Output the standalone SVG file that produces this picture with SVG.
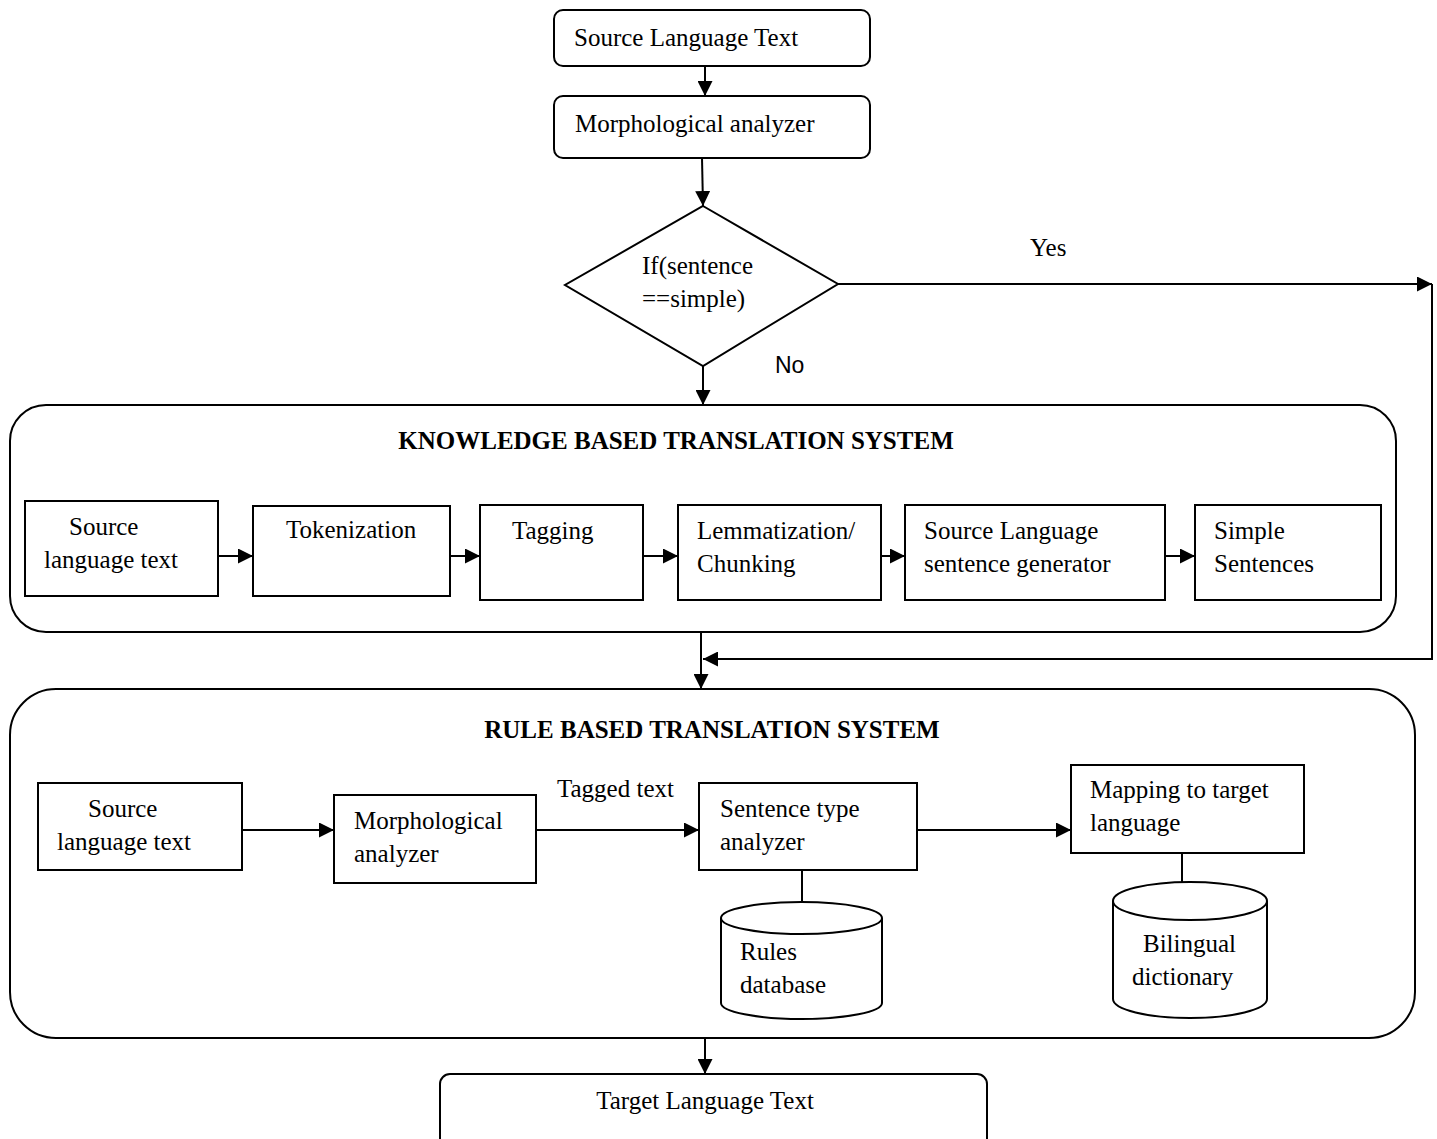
<svg xmlns="http://www.w3.org/2000/svg" width="1437" height="1139" viewBox="0 0 1437 1139">
<style>
.b{fill:#fff;stroke:#000;stroke-width:2}
.c{fill:none;stroke:#000;stroke-width:2}
.t{font-family:"Liberation Serif","Times New Roman",serif;font-size:25px;fill:#000}
.h{font-family:"Liberation Serif","Times New Roman",serif;font-size:25px;font-weight:bold;fill:#000}
.s{font-family:"Liberation Sans",Arial,sans-serif;font-size:23px;fill:#000}
</style>
<defs>
<marker id="ah" markerUnits="userSpaceOnUse" markerWidth="15" markerHeight="15" refX="15" refY="7.5" orient="auto">
<path d="M0,0 L15,7.5 L0,15 z" fill="#000"/>
</marker>
</defs>
<rect width="1437" height="1139" fill="#fff"/>

<g id="kbts">
<rect class="b" x="10" y="405" width="1386" height="227" rx="36" ry="36"/>
<text class="h" x="676" y="449" text-anchor="middle">KNOWLEDGE BASED TRANSLATION SYSTEM</text>
</g>
<g id="rbts">
<rect class="b" x="10" y="689" width="1405" height="349" rx="46" ry="46"/>
<text class="h" x="712" y="738" text-anchor="middle">RULE BASED TRANSLATION SYSTEM</text>
</g>

<g id="connectors">
<path class="c" d="M705,66 V96" marker-end="url(#ah)"/>
<path class="c" d="M702,158 L703,206" marker-end="url(#ah)"/>
<path class="c" d="M838,284 H1432" marker-end="url(#ah)"/>
<path class="c" d="M1432,284 V659 H703" marker-end="url(#ah)"/>
<path class="c" d="M703,366 V405" marker-end="url(#ah)"/>
<path class="c" d="M701,632 V689" marker-end="url(#ah)"/>
<path class="c" d="M218,556 H253" marker-end="url(#ah)"/>
<path class="c" d="M450,556 H480" marker-end="url(#ah)"/>
<path class="c" d="M643,556 H678" marker-end="url(#ah)"/>
<path class="c" d="M881,556 H905" marker-end="url(#ah)"/>
<path class="c" d="M1165,556 H1195" marker-end="url(#ah)"/>
<path class="c" d="M242,830 H334" marker-end="url(#ah)"/>
<path class="c" d="M536,830 H699" marker-end="url(#ah)"/>
<path class="c" d="M917,830 H1071" marker-end="url(#ah)"/>
<path class="c" d="M802,870 V902"/>
<path class="c" d="M1182,853 V882"/>
<path class="c" d="M705,1038 V1074" marker-end="url(#ah)"/>
<text class="t" x="1030" y="256">Yes</text>
<text class="s" x="775" y="373">No</text>
<text class="t" x="557" y="797">Tagged text</text>
</g>

<g id="n-source">
<rect class="b" x="554" y="10" width="316" height="56" rx="9" ry="9"/>
<text class="t" x="574" y="46">Source Language Text</text>
</g>
<g id="n-morph">
<rect class="b" x="554" y="96" width="316" height="62" rx="9" ry="9"/>
<text class="t" x="575" y="132">Morphological analyzer</text>
</g>
<g id="n-decision">
<polygon class="b" points="703,206 838,284 703,366 565,285"/>
<text class="t" x="642" y="274">If(sentence</text>
<text class="t" x="642" y="307">==simple)</text>
</g>

<g id="k1">
<rect class="b" x="25" y="501" width="193" height="95"/>
<text class="t" x="69" y="535">Source</text>
<text class="t" x="44" y="568">language text</text>
</g>
<g id="k2">
<rect class="b" x="253" y="506" width="197" height="90"/>
<text class="t" x="286" y="538">Tokenization</text>
</g>
<g id="k3">
<rect class="b" x="480" y="505" width="163" height="95"/>
<text class="t" x="512" y="539">Tagging</text>
</g>
<g id="k4">
<rect class="b" x="678" y="505" width="203" height="95"/>
<text class="t" x="697" y="539">Lemmatization/</text>
<text class="t" x="697" y="572">Chunking</text>
</g>
<g id="k5">
<rect class="b" x="905" y="505" width="260" height="95"/>
<text class="t" x="924" y="539">Source Language</text>
<text class="t" x="924" y="572">sentence generator</text>
</g>
<g id="k6">
<rect class="b" x="1195" y="505" width="186" height="95"/>
<text class="t" x="1214" y="539">Simple</text>
<text class="t" x="1214" y="572">Sentences</text>
</g>

<g id="r1">
<rect class="b" x="38" y="783" width="204" height="87"/>
<text class="t" x="88" y="817">Source</text>
<text class="t" x="57" y="850">language text</text>
</g>
<g id="r2">
<rect class="b" x="334" y="795" width="202" height="88"/>
<text class="t" x="354" y="829">Morphological</text>
<text class="t" x="354" y="862">analyzer</text>
</g>
<g id="r3">
<rect class="b" x="699" y="783" width="218" height="87"/>
<text class="t" x="720" y="817">Sentence type</text>
<text class="t" x="720" y="850">analyzer</text>
</g>
<g id="r4">
<rect class="b" x="1071" y="765" width="233" height="88"/>
<text class="t" x="1090" y="798">Mapping to target</text>
<text class="t" x="1090" y="831">language</text>
</g>
<g id="db-rules">
<path class="b" d="M721,918 A80.5,16 0 0 1 882,918 V1003 A80.5,16 0 0 1 721,1003 Z"/>
<path class="c" d="M721,918 A80.5,16 0 0 0 882,918"/>
<text class="t" x="740" y="960">Rules</text>
<text class="t" x="740" y="993">database</text>
</g>
<g id="db-bilingual">
<path class="b" d="M1113,901 A77,19 0 0 1 1267,901 V999 A77,19 0 0 1 1113,999 Z"/>
<path class="c" d="M1113,901 A77,19 0 0 0 1267,901"/>
<text class="t" x="1143" y="952">Bilingual</text>
<text class="t" x="1132" y="985">dictionary</text>
</g>

<g id="n-target">
<rect class="b" x="440" y="1074" width="547" height="80" rx="10" ry="10"/>
<text class="t" x="705" y="1109" text-anchor="middle">Target Language Text</text>
</g>
</svg>
